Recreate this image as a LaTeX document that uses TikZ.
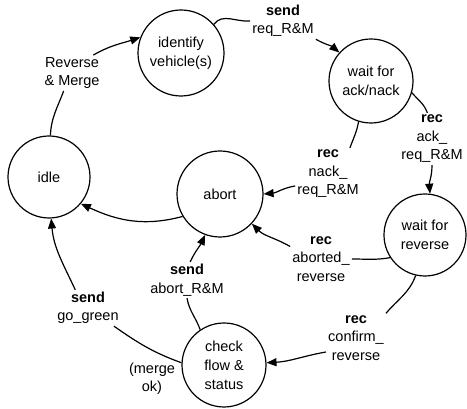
\documentclass[tikz,border=0pt]{standalone}
\usepackage{fontspec}
\setmainfont{Liberation Sans}
\usetikzlibrary{arrows.meta}
\begin{document}
\begin{tikzpicture}[x=1pt,y=1pt,
  state/.style={draw,circle,line width=1.2pt,inner sep=0pt,align=center,font=\fontsize{14.5}{19}\selectfont},
  lbl/.style={align=center,inner sep=2pt,font=\fontsize{14.5}{18.5}\selectfont},
  conn/.style={line width=1.2pt},
  arr/.style={conn,-{Triangle[length=10pt,width=8pt]}}]
\useasboundingbox (0,0) rectangle (467,409);
% states
\node[state,minimum size=82pt] (idle)  at (49,232) {idle};
\node[state,minimum size=86pt] (ident) at (181,356) {identify\\vehicle(s)};
\node[state,minimum size=84pt] (wack)  at (371,328) {wait for\\ack/nack};
\node[state,minimum size=86pt] (abort) at (220,215) {abort};
\node[state,minimum size=82pt] (wrev)  at (425,174) {wait for\\reverse};
\node[state,minimum size=84pt] (check) at (224,44) {check\\flow \&\\status};
% labels
\node[lbl] (l1) at (72,336) {Reverse\\\& Merge};
\node[lbl] (l2) at (283,388) {\textbf{send}\\req\_R\&M};
\node[lbl] (l3) at (432,270) {\textbf{rec}\\ack\_\\req\_R\&M};
\node[lbl] (l4) at (328,235) {\textbf{rec}\\nack\_\\req\_R\&M};
\node[lbl] (l5) at (321,150) {\textbf{rec}\\aborted\_\\reverse};
\node[lbl] (l6) at (356,71) {\textbf{rec}\\confirm\_\\reverse};
\node[lbl] (l7) at (187,129) {\textbf{send}\\abort\_R\&M};
\node[lbl] (l8) at (88,101) {\textbf{send}\\go\_green};
\node[lbl] (l9) at (152,30) {(merge\\ok)};
% connectors
\draw[conn] (idle.88) to[out=88,in=-110] (l1.245);
\draw[arr] (l1.40) to[out=30,in=198] (ident.159);
\draw[conn] (ident.41) to[out=55,in=185] (l2.west);
\draw[arr] (l2.south east) to[out=-30,in=140] (wack.138);
\draw[conn] (wack.-16) to[out=-50,in=110] (l3.100);
\draw[arr] (l3.south) to[out=-90,in=95] (wrev.83);
\draw[conn] (wack.-107) to[out=-100,in=70] (l4.50);
\draw[arr] (l4.200) to[out=190,in=5] (abort.0);
\draw[arr] (abort.211) to[out=195,in=-25] (idle.-40);
\draw[conn] (wrev.213) to[out=190,in=0] (l5.east);
\draw[arr] (l5.158) to[out=150,in=-45] (abort.-43);
\draw[conn] (wrev.-103) to[out=-110,in=50] (l6.north east);
\draw[arr] (l6.205) to[out=190,in=3] (check.3);
\draw[conn] (check.124) to[out=110,in=-80] (l7.south);
\draw[arr] (l7.80) to[out=65,in=-115] (abort.-110);
\draw[conn] (check.177) to[out=160,in=-35] (l8.-35);
\draw[arr] (l8.125) to[out=115,in=-85] (idle.-87);
\end{tikzpicture}
\end{document}
